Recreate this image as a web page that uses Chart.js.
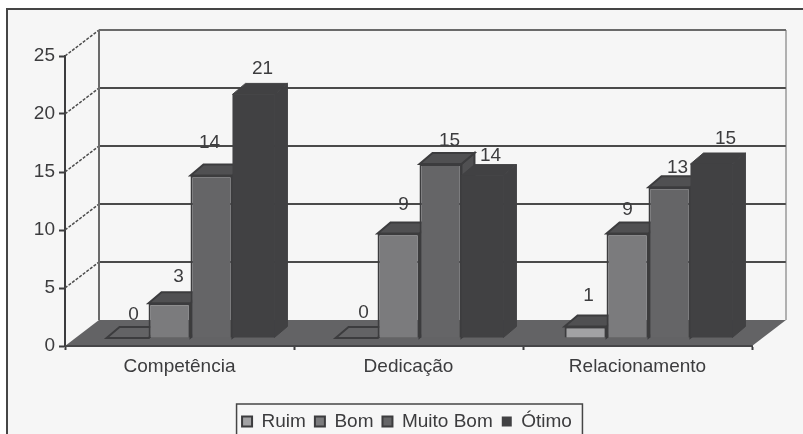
<!DOCTYPE html>
<html>
<head>
<meta charset="utf-8">
<title>Avaliação</title>
<script src="https://cdn.jsdelivr.net/npm/chart.js@4"></script>
<style>
  html, body { margin: 0; background: #fff; }
  canvas { display: block; }
</style>
</head>
<body>
<canvas id="myChart" width="803" height="434"></canvas>
<script>
const categories = ["Competência", "Dedicação", "Relacionamento"];
const ruim = [0, 0, 1];
const bom = [3, 9, 9];
const muitoBom = [14, 15, 13];
const otimo = [21, 14, 15];
const yTicks = [0, 5, 10, 15, 20, 25];

const inkColor = "#3c3c3e";

// depth of the wall/floor box and of the bars
const wallDx = 34, wallDy = -26;
const barShiftX = 11, barShiftY = -8;
const barDx = 13, barDy = -11;

// label nudges per dataset, per category
const labelNudge = [
  [[-3, 3], [-2, 1], [-6, -5]],
  [[0, 0], [-4, -3], [-9, 2]],
  [[-11, -7], [0, 3], [-1, 7]],
  [[0, 0], [-1, 6], [5, 1]],
];

function poly(ctx, pts, fill, stroke, width) {
  ctx.beginPath();
  pts.forEach(function (p, i) {
    if (i === 0) ctx.moveTo(p[0], p[1]);
    else ctx.lineTo(p[0], p[1]);
  });
  ctx.closePath();
  ctx.fillStyle = fill;
  ctx.fill();
  if (stroke) {
    ctx.strokeStyle = stroke;
    ctx.lineWidth = width || 2;
    ctx.stroke();
  }
}

function drawWalls(chart) {
  const ctx = chart.ctx;
  const a = chart.chartArea;
  const y = chart.scales.y;
  ctx.save();

  // back wall lines and the dashed links to the axis
  yTicks.forEach(function (t) {
    const py = y.getPixelForValue(t);
    if (t > 0) {
      ctx.strokeStyle = t === 25 ? "#6a6a6a" : "#4a4a4a";
      ctx.lineWidth = 2;
      ctx.beginPath();
      ctx.moveTo(a.left + wallDx, py + wallDy);
      ctx.lineTo(a.right + wallDx, py + wallDy);
      ctx.stroke();
      ctx.strokeStyle = "#4a4a4a";
      ctx.setLineDash([3, 1.5]);
      ctx.lineWidth = 1.5;
      ctx.beginPath();
      ctx.moveTo(a.left, py);
      ctx.lineTo(a.left + wallDx, py + wallDy);
      ctx.stroke();
      ctx.setLineDash([]);
    }
  });
  ctx.strokeStyle = "#6a6a6a";
  ctx.lineWidth = 2;
  ctx.beginPath();
  ctx.moveTo(a.left + wallDx, a.top + wallDy);
  ctx.lineTo(a.left + wallDx, a.bottom + wallDy);
  ctx.stroke();
  ctx.lineWidth = 1;
  ctx.beginPath();
  ctx.moveTo(a.right + wallDx, a.top + wallDy);
  ctx.lineTo(a.right + wallDx, a.bottom + wallDy);
  ctx.stroke();

  // floor
  poly(ctx, [
    [a.left, a.bottom],
    [a.left + wallDx, a.bottom + wallDy],
    [a.right + wallDx, a.bottom + wallDy],
    [a.right, a.bottom],
  ], "#636365");
  ctx.strokeStyle = "#464648";
  ctx.lineWidth = 2;
  ctx.beginPath();
  ctx.moveTo(a.left, a.bottom);
  ctx.lineTo(a.right, a.bottom);
  ctx.stroke();
  ctx.restore();
}

function drawDepthFaces(chart, index) {
  const ctx = chart.ctx;
  const ds = chart.data.datasets[index];
  const solid = ds.borderWidth === 0;
  chart.getDatasetMeta(index).data.forEach(function (bar, i) {
    const half = bar.width / 2;
    const l = bar.x - half, r = bar.x + half;
    const top = bar.y, base = bar.base;
    // the darkest series has no outline: its faces blend together
    const edge = solid ? ds.backgroundColor : inkColor;
    const edgeWidth = solid ? 1 : 2;
    // side face, then top face
    poly(ctx, [[r, top], [r + barDx, top + barDy], [r + barDx, base + barDy], [r, base]],
      solid ? ds.backgroundColor : "#505052", edge, edgeWidth);
    poly(ctx, [[l, top], [l + barDx, top + barDy], [r + barDx, top + barDy], [r, top]],
      solid ? ds.backgroundColor : (ds.data[i] === 0 ? "#636365" : "#505052"), edge, edgeWidth);
  });
}

function drawValueLabels(chart) {
  const ctx = chart.ctx;
  ctx.save();
  ctx.font = "19px 'Liberation Sans'";
  ctx.fillStyle = inkColor;
  ctx.textAlign = "center";
  ctx.textBaseline = "middle";
  chart.data.datasets.forEach(function (ds, d) {
    chart.getDatasetMeta(d).data.forEach(function (bar, i) {
      const n = labelNudge[d][i];
      ctx.fillText(String(ds.data[i]),
        bar.x + barShiftX + barDx * 0.7 + n[0],
        bar.y + barShiftY + barDy - 15 + n[1]);
    });
  });
  ctx.restore();
}

const box3d = {
  id: "box3d",
  afterLayout(chart) {
    // legend sits lower and further right than the default slot
    const lg = chart.legend;
    lg.left += 31; lg.right += 31;
    lg.top += 7; lg.bottom += 7;
  },
  beforeDraw(chart) {
    const ctx = chart.ctx;
    ctx.save();
    ctx.fillStyle = "#f6f6f6";
    ctx.fillRect(6, 8, chart.width, chart.height);
    ctx.strokeStyle = "#454545";
    ctx.lineWidth = 2;
    ctx.beginPath();
    ctx.moveTo(7, chart.height);
    ctx.lineTo(7, 9);
    ctx.lineTo(chart.width, 9);
    ctx.stroke();
    ctx.restore();
  },
  beforeDatasetsDraw(chart) {
    const ctx = chart.ctx;
    drawWalls(chart);

    // bars stand a little inside the box, painted left to right so each
    // one covers the side face of its neighbour
    ctx.save();
    ctx.translate(barShiftX, barShiftY);
    chart.data.datasets.forEach(function (ds, d) {
      drawDepthFaces(chart, d);
      chart.getDatasetMeta(d).controller.draw();
    });
    ctx.restore();

    drawValueLabels(chart);
    return false;
  },
  afterDraw(chart) {
    const ctx = chart.ctx;
    const lg = chart.legend;
    const mid = (lg.left + lg.right) / 2;
    const w = lg.lineWidths[0];
    ctx.save();
    ctx.strokeStyle = "#454545";
    ctx.lineWidth = 1.5;
    ctx.strokeRect(mid - w / 2 - 1, lg.top + 1, w + 7, 60);
    ctx.restore();
  },
};

const ctx = document.getElementById("myChart");
const myChart = new Chart(ctx, {
  type: "bar",
  data: {
    labels: categories,
    datasets: [
      { label: "Ruim", data: ruim, backgroundColor: "#a2a2a4", borderColor: inkColor, borderWidth: 2 },
      { label: "Bom", data: bom, backgroundColor: "#7b7b7d", borderColor: inkColor, borderWidth: 2 },
      { label: "Muito Bom", data: muitoBom, backgroundColor: "#656567", borderColor: inkColor, borderWidth: 2 },
      { label: "Ótimo", data: otimo, backgroundColor: "#414143", borderColor: "#414143", borderWidth: 0 },
    ],
  },
  options: {
    responsive: false,
    animation: false,
    layout: { padding: { left: 0, top: 56, right: 51, bottom: 0 } },
    datasets: { bar: { categoryPercentage: 0.733, barPercentage: 1 } },
    scales: {
      x: {
        afterFit(scale) { scale.height = 50; },
        grid: { offset: true, drawOnChartArea: false, color: inkColor, tickLength: 4, tickWidth: 2 },
        border: { color: inkColor, width: 2 },
        ticks: { color: inkColor, font: { family: "'Liberation Sans'", size: 19 }, padding: 5, maxRotation: 0 },
      },
      y: {
        min: 0,
        max: 25,
        afterFit(scale) { scale.width = 65; },
        afterBuildTicks(scale) { scale.ticks = yTicks.map(function (v) { return { value: v }; }); },
        grid: { drawOnChartArea: false, color: inkColor, tickLength: 6, tickWidth: 2 },
        border: { color: inkColor, width: 2 },
        ticks: { color: inkColor, font: { family: "'Liberation Sans'", size: 19 }, padding: 4 },
      },
    },
    plugins: {
      title: { display: false },
      tooltip: { enabled: false },
      legend: {
        position: "bottom",
        labels: {
          color: inkColor,
          boxWidth: 10,
          boxHeight: 10,
          padding: 9,
          font: { family: "'Liberation Sans'", size: 19 },
        },
      },
    },
  },
  plugins: [box3d],
});
</script>
</body>
</html>
